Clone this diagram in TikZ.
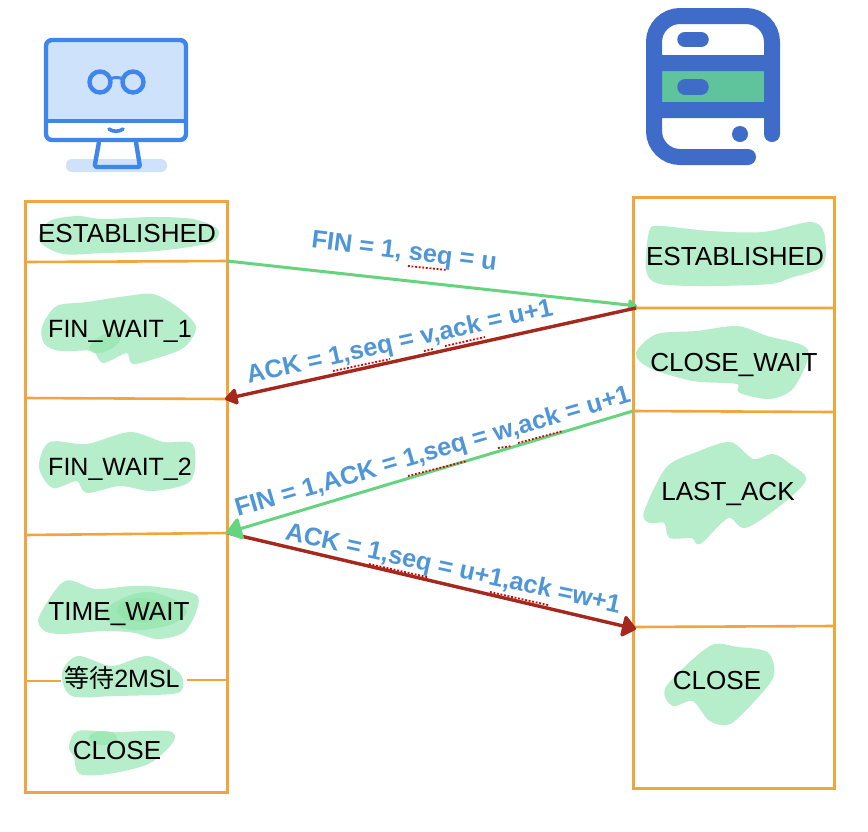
\documentclass[tikz,border=0pt]{standalone}
\usepackage{fontspec}
\setmainfont{Liberation Sans}
\newfontfamily\cjk{Noto Sans CJK SC}
\usetikzlibrary{arrows.meta}
\definecolor{orangeln}{HTML}{F0A63C}
\definecolor{blob}{HTML}{B6EDCB}
\definecolor{blobdark}{HTML}{8FE3A8}
\definecolor{greenln}{HTML}{66D47E}
\definecolor{redln}{HTML}{A5281E}
\definecolor{lbl}{HTML}{4F96D8}
\definecolor{mon}{HTML}{3F85EE}
\definecolor{monfill}{HTML}{CFE2FB}
\definecolor{srv}{HTML}{3F6CC9}
\definecolor{srvfill}{HTML}{5FC49C}
\tikzset{
  x=1pt,y=-1pt,
  statebox/.style={draw=orangeln,line width=3pt,minimum width=#1,inner sep=0pt},
  divider/.style={draw=orangeln,line width=2.6pt},
  statetxt/.style={font=\fontsize{26.1pt}{28pt}\selectfont,text=black,inner sep=0pt,text height=18.7pt,text depth=0pt},
  finwait/.style={statetxt,font=\fontsize{25pt}{28pt}\selectfont},
  msg/.style={font=\fontsize{25.4pt}{28pt}\selectfont\bfseries,text=lbl,inner sep=0pt},
  spell/.style={draw=red!85!black,line width=1.8pt,dash pattern=on 1.8pt off 1.8pt},
  blobfill/.style={fill=blob,draw=blob,line width=2pt,line join=round},
  deep/.style={fill=blobdark,fill opacity=.6,draw=none},
  greenarrow/.style={draw=greenln,line width=3pt},
  redarrow/.style={draw=redln,line width=3.4pt},
}
\begin{document}
\begin{tikzpicture}
\useasboundingbox[fill=white] (0,0) rectangle (868,831);

% client icon
\fill[monfill,rounded corners=6pt] (66,159) rectangle (167,172);
\fill[monfill,rounded corners=3pt] (46,40) rectangle (186,121);
\draw[mon,line width=4.4pt,line join=round] (99,142) -- (95,164) [rounded corners=2pt] -- (95,167) -- (140,167) -- (136,142);
\draw[mon,line width=4.4pt,rounded corners=6pt] (46,40) rectangle (186,140);
\draw[mon,line width=4.4pt] (46,121) -- (186,121);
\draw[mon,line width=3.6pt,line cap=round] (109,129) .. controls (113,132) and (119,132) .. (123,129);
\draw[mon,line width=4.4pt] (100,82) circle (10.5pt) (133,82) circle (10.5pt);
\draw[mon,line width=3pt] (110,79) .. controls (114,77) and (119,77) .. (123,79);

% server icon
\fill[srvfill] (654,71) rectangle (772,102);
\draw[srv,line width=16pt,line cap=round,rounded corners=26pt] (772,134) -- (772,16) -- (654,16) -- (654,157) -- (748,157);
\fill[srv] (654,55) rectangle (772,71) (654,102) rectangle (772,118);
\draw[srv,line width=15.5pt,line cap=round] (685,39.5) -- (701,39.5) (685,87) -- (701,87);
\fill[srv] (740,134) circle (8pt);

% highlights
\fill[blobfill] plot[smooth cycle] coordinates {(50,222)(77,217)(103,220)(153,218)(193,220)(217,230)(210,242)(157,250)(103,252)(63,253)(40,240)};
\fill[blobfill] plot[smooth cycle] coordinates {(43,327)(57,307)(87,303)(127,297)(153,295)(177,308)(195,327)(183,347)(157,357)(133,363)(127,352)(103,362)(93,350)(60,350)(45,343)};
\fill[deep] (105,343) ellipse [x radius=17pt,y radius=8pt,rotate=25];
\fill[blobfill] plot[smooth cycle] coordinates {(40,467)(50,443)(87,445)(130,433)(163,443)(192,445)(190,480)(153,490)(120,485)(87,492)(77,480)(53,487)};
\fill[blobfill] plot[smooth cycle] coordinates {(40,617)(65,582)(95,590)(132,587)(158,588)(197,597)(185,630)(158,638)(135,632)(105,630)(62,633)(45,630)};
\fill[deep] plot[smooth cycle] coordinates {(100,615)(125,597)(150,592)(175,600)(187,612)(170,625)(130,630)};
\fill[deep] (141,610) ellipse [x radius=24pt,y radius=12pt];
\fill[blobfill] plot[smooth cycle] coordinates {(63,673)(78,657)(112,667)(148,657)(178,673)(182,687)(172,693)(115,695)(72,695)};
\fill[blobfill] plot[smooth cycle] coordinates {(70,747)(78,732)(115,733)(168,732)(172,742)(148,763)(108,773)(80,773)(75,757)};
\fill[deep] (103,738) ellipse [x radius=14pt,y radius=7pt];
\fill[blobfill] plot[smooth cycle] coordinates {(650,232)(660,227)(710,232)(763,233)(810,223)(823,233)(822,265)(790,277)(770,283)(710,285)(660,283)(647,270)};
\fill[blobfill] plot[smooth cycle] coordinates {(637,353)(657,335)(697,332)(737,327)(767,337)(807,350)(793,387)(770,398)(740,392)(737,383)(693,380)(650,367)};
\fill[blobfill] plot[smooth cycle] coordinates {(645,512)(667,468)(697,453)(730,443)(753,460)(773,455)(790,465)(805,480)(777,507)(745,527)(728,517)(700,543)(692,537)(670,537)(665,522)(650,522)};
\fill[blobfill] plot[smooth cycle] coordinates {(667,687)(710,647)(737,648)(767,653)(773,675)(757,697)(730,723)(710,720)(693,700)(673,705)};

% state boxes
\node[statebox=202pt,minimum height=591pt] (lbox) at (126,496.5) {};
\node[statebox=201pt,minimum height=591pt] (rbox) at (733.5,492.5) {};

% dividers
\coordinate (l1w) at (25,262);  \coordinate (l1e) at (227,261);
\coordinate (l2w) at (25,398);  \coordinate (l2e) at (227,399);
\coordinate (l3w) at (25,535);  \coordinate (l3e) at (227,533);
\coordinate (l4w) at (25,681);  \coordinate (l4e) at (227,680);
\coordinate (r1w) at (633,308); \coordinate (r1e) at (834,308);
\coordinate (r2w) at (633,411); \coordinate (r2e) at (834,412);
\coordinate (r3w) at (633,627); \coordinate (r3e) at (834,626);
\draw[divider] (l1w) -- (l1e) (l2w) -- (l2e) (l3w) -- (l3e) (r1w) -- (r1e) (r2w) -- (r2e) (r3w) -- (r3e);
\draw[divider] (l4w) -- (61,681) (187,680) -- (l4e);

% state labels
\node[statetxt] (ls1) at (127,233) {ESTABLISHED};
\node[finwait] (ls2) at (120,328) {FIN\_WAIT\_1};
\node[finwait] (ls3) at (120,466) {FIN\_WAIT\_2};
\node[statetxt] (ls4) at (119,611) {TIME\_WAIT};
\node[finwait] (ls5) at (122,678) {{\cjk 等待}2MSL};
\node[statetxt] (ls6) at (117,750) {CLOSE};
\node[statetxt] (rs1) at (735,256) {ESTABLISHED};
\node[statetxt] (rs2) at (734,362) {CLOSE\_WAIT};
\node[statetxt] (rs3) at (728,491) {LAST\_ACK};
\node[statetxt] (rs4) at (717,680) {CLOSE};

% connectors
\coordinate (a1s) at (227,261);  \coordinate (a1e) at (637,306);
\coordinate (a2s) at (636,308);  \coordinate (a2e) at (225,399);
\coordinate (a3s) at (633,411);  \coordinate (a3e) at (226,533);
\coordinate (a4s) at (228,533);  \coordinate (a4e) at (636,629);
\draw[greenarrow,-{Triangle[length=10pt,width=13pt,round]}] (a1s) -- (a1e);
\draw[redarrow,-{Triangle[length=14pt,width=18pt,round]}] (a2s) -- (a2e);
\draw[redarrow,-{Triangle[length=15pt,width=24pt,round]}] (a4s) -- (a4e);
\draw[greenarrow,-{Triangle[length=17pt,width=24pt,round]}] (a3s) -- (a3e);

% message labels
\draw[spell] (408,266) -- (447,270);
\draw[spell] (333,371) -- (390,359) (424,351) -- (433,349) (445,346) -- (485,337);
\draw[spell] (408,476) -- (467,461) (498,448) -- (512,446) (518,443) -- (563,431);
\draw[spell] (369,564) -- (427,577) (490,592) -- (548,605);
\node[msg,rotate=-7] (m1) at (404,253) {FIN = 1, seq = u};
\node[msg,rotate=12.6] (m2) at (400,343) {ACK = 1,seq = v,ack = u+1};
\node[msg,rotate=16.3] (m3) at (433,453) {FIN = 1,ACK = 1,seq = w,ack = u+1};
\node[msg,rotate=-12.4] (m4) at (453,570) {ACK = 1,seq = u+1,ack =w+1};
\end{tikzpicture}
\end{document}
